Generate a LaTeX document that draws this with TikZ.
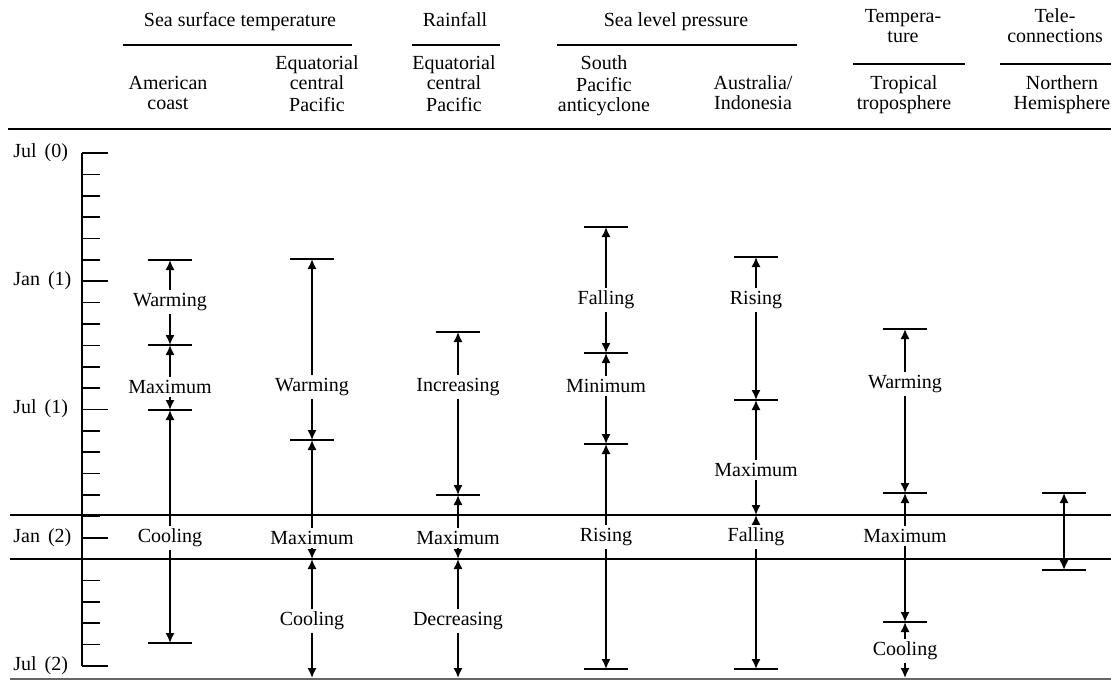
\documentclass[tikz,border=0pt]{standalone}
\usepackage{fontspec}
\setmainfont{Liberation Serif}
\usetikzlibrary{arrows.meta,calc}
\begin{document}
\begin{tikzpicture}[x=0.5pt,y=-0.5pt,
  hdr/.style={font=\fontsize{10}{10}\selectfont, align=center, inner sep=0pt, anchor=north},
  lbl/.style={font=\fontsize{10}{12}\selectfont, fill=white, inner xsep=1pt, inner ysep=1.5pt},
  tlbl/.style={font=\fontsize{10}{12}\selectfont, anchor=west, inner sep=0pt},
  seg/.style={line width=0.9pt, {Latex[length=5pt,width=4.6pt]}-{Latex[length=5pt,width=4.6pt]}},
  barl/.style={line width=0.9pt},
  rulel/.style={line width=0.9pt},
  tickl/.style={line width=0.8pt}]
\useasboundingbox (0,0) rectangle (1111,684);

% ---------- headers ----------
\node[hdr] (hSST) at (240,12) {\strut Sea surface temperature};
\node[hdr] (hRain) at (455,12) {\strut Rainfall};
\node[hdr] (hSLP) at (676,12) {\strut Sea level pressure};
\node[hdr] (hTemp) at (903,8) {\strut Tempera-\\\strut ture};
\node[hdr] (hTele) at (1055,8) {\strut Tele-\\\strut connections};

\coordinate (uSSTl) at (123,45);  \coordinate (uSSTr) at (352,45);
\coordinate (uRainl) at (412,45); \coordinate (uRainr) at (500,45);
\coordinate (uSLPl) at (557,45);  \coordinate (uSLPr) at (797,45);
\coordinate (uTempl) at (853,64); \coordinate (uTempr) at (965,64);
\coordinate (uTelel) at (1000,64);\coordinate (uTeler) at (1111,64);
\draw[rulel] (uSSTl) -- (uSSTr);
\draw[rulel] (uRainl) -- (uRainr);
\draw[rulel] (uSLPl) -- (uSLPr);
\draw[rulel] (uTempl) -- (uTempr);
\draw[rulel] (uTelel) -- (uTeler);

\node[hdr] (s1) at (168,75) {\strut American\\\strut coast};
\node[hdr] (s2) at (317,55) {\strut Equatorial\\\strut central\\\strut Pacific};
\node[hdr] (s3) at (454,55) {\strut Equatorial\\\strut central\\\strut Pacific};
\node[hdr] (s4) at (604,55) {\strut South\\\strut Pacific\\\strut anticyclone};
\node[hdr] (s5) at (753,75) {\strut Australia/\\\strut Indonesia};
\node[hdr] (s6) at (904,75) {\strut Tropical\\\strut troposphere};
\node[hdr] (s7) at (1062,75) {\strut Northern\\\strut Hemisphere};

\coordinate (mainL) at (8,129); \coordinate (mainR) at (1111,129);
\draw[line width=1.3pt] (mainL) -- (mainR);
\coordinate (botL) at (10,679); \coordinate (botR) at (1111,679);
\draw[line width=0.6pt, black!60] (botL) -- (botR);

% ---------- time axis ----------
\coordinate (ax0) at (82,153); \coordinate (ax1) at (82,666);
\draw[line width=0.9pt] (ax0) -- (ax1);
\foreach \m in {0,...,24} { \draw[tickl] (82,153+21.375*\m) -- ++(18,0); }
\foreach \m in {0,6,...,24} { \draw[tickl] (82,153+21.375*\m) -- ++(26,0); }
\node[tlbl] (tJul0) at (13,153) {Jul\hspace{4pt}(0)};
\node[tlbl] (tJan1) at (13,281) {Jan\hspace{4pt}(1)};
\node[tlbl] (tJul1) at (13,409) {Jul\hspace{4pt}(1)};
\node[tlbl] (tJan2) at (13,538) {Jan\hspace{4pt}(2)};
\node[tlbl] (tJul2) at (13,666) {Jul\hspace{4pt}(2)};

% ---------- band ----------
\coordinate (bUL) at (10,515); \coordinate (bUR) at (1111,515);
\coordinate (bLL) at (10,559); \coordinate (bLR) at (1111,559);
\draw[line width=0.9pt] (bUL) -- (bUR);
\draw[line width=0.9pt] (bLL) -- (bLR);

% ---------- column 1: American coast SST ----------
\coordinate (a1) at (170,260); \coordinate (a2) at (170,345);
\coordinate (a3) at (170,410); \coordinate (a4) at (170,643);
\foreach \c in {a1,a2,a3,a4} { \draw[barl] ($(\c)+(-22,0)$) -- ($(\c)+(22,0)$); }
\draw[seg] (a1) -- (a2);
\draw[seg] (a2) -- (a3);
\draw[seg] (a3) -- (a4);
\node[lbl] (la1) at (170,302) {Warming};
\node[lbl] (la2) at (170,387) {Maximum};
\node[lbl] (la3) at (170,538) {Cooling};

% ---------- column 2: Equatorial central Pacific SST ----------
\coordinate (b1) at (312,259); \coordinate (b2) at (312,440);
\coordinate (b3) at (312,559); \coordinate (b4) at (312,678);
\foreach \c in {b1,b2} { \draw[barl] ($(\c)+(-22,0)$) -- ($(\c)+(22,0)$); }
\draw[seg] (b1) -- (b2);
\draw[seg] (b2) -- (b3);
\draw[seg] (b3) -- (b4);
\node[lbl] (lb1) at (312,387) {Warming};
\node[lbl] (lb2) at (312,538) {Maximum};
\node[lbl] (lb3) at (312,621) {Cooling};

% ---------- column 3: Rainfall ----------
\coordinate (c1) at (458,332); \coordinate (c2) at (458,495);
\coordinate (c3) at (458,559); \coordinate (c4) at (458,678);
\foreach \c in {c1,c2} { \draw[barl] ($(\c)+(-22,0)$) -- ($(\c)+(22,0)$); }
\draw[seg] (c1) -- (c2);
\draw[seg] (c2) -- (c3);
\draw[seg] (c3) -- (c4);
\node[lbl] (lc1) at (458,387) {Increasing};
\node[lbl] (lc2) at (458,538) {Maximum};
\node[lbl] (lc3) at (458,621) {Decreasing};

% ---------- column 4: South Pacific anticyclone ----------
\coordinate (d1) at (606,227); \coordinate (d2) at (606,353);
\coordinate (d3) at (606,444); \coordinate (d4) at (606,669);
\foreach \c in {d1,d2,d3,d4} { \draw[barl] ($(\c)+(-22,0)$) -- ($(\c)+(22,0)$); }
\draw[seg] (d1) -- (d2);
\draw[seg] (d2) -- (d3);
\draw[seg] (d3) -- (d4);
\node[lbl] (ld1) at (606,300) {Falling};
\node[lbl] (ld2) at (606,386) {Minimum};
\node[lbl] (ld3) at (606,537) {Rising};

% ---------- column 5: Australia/Indonesia ----------
\coordinate (e1) at (756,257); \coordinate (e2) at (756,400);
\coordinate (e3) at (756,515); \coordinate (e4) at (756,669);
\foreach \c in {e1,e2,e4} { \draw[barl] ($(\c)+(-22,0)$) -- ($(\c)+(22,0)$); }
\draw[seg] (e1) -- (e2);
\draw[seg] (e2) -- (e3);
\draw[seg] (e3) -- (e4);
\node[lbl] (le1) at (756,300) {Rising};
\node[lbl] (le2) at (756,470) {Maximum};
\node[lbl] (le3) at (756,537) {Falling};

% ---------- column 6: Tropical troposphere ----------
\coordinate (f1) at (905,329); \coordinate (f2) at (905,493);
\coordinate (f3) at (905,622); \coordinate (f4) at (905,678);
\foreach \c in {f1,f2,f3} { \draw[barl] ($(\c)+(-22,0)$) -- ($(\c)+(22,0)$); }
\draw[seg] (f1) -- (f2);
\draw[seg] (f2) -- (f3);
\draw[seg] (f3) -- (f4);
\node[lbl] (lf1) at (905,384) {Warming};
\node[lbl] (lf2) at (905,536) {Maximum};
\node[lbl] (lf3) at (905,651) {Cooling};

% ---------- column 7: Northern Hemisphere ----------
\coordinate (g1) at (1064,493); \coordinate (g2) at (1064,570);
\foreach \c in {g1,g2} { \draw[barl] ($(\c)+(-22,0)$) -- ($(\c)+(22,0)$); }
\draw[seg] (g1) -- (g2);
\end{tikzpicture}
\end{document}
